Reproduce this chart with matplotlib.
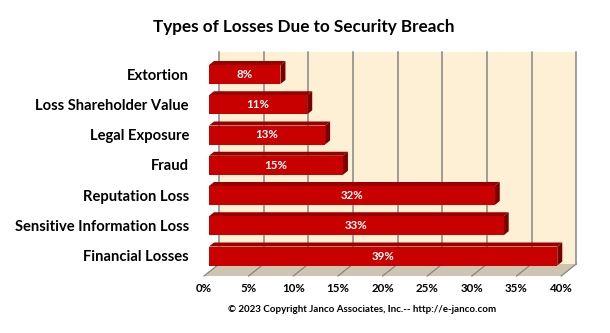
import matplotlib.pyplot as plt
from matplotlib.patches import Polygon

# data (bottom to top)
categories = ['Financial Losses', 'Sensitive Information Loss', 'Reputation Loss',
              'Fraud', 'Legal Exposure', 'Loss Shareholder Value', 'Extortion']
values = [39, 33, 32, 15, 13, 11, 8]
tick_values = [0, 5, 10, 15, 20, 25, 30, 35, 40]
tick_labels = ['0%', '5%', '10%', '15%', '20%', '25%', '30%', '35%', '40%']

W, H = 610, 333
plt.rcParams['font.family'] = ['Lato', 'DejaVu Sans']
fig = plt.figure(figsize=(W / 100, H / 100), dpi=100)
ax = fig.add_axes([0, 0, 1, 1])

# pixel scale of the chart
x0_pix, px_per_pct = 209, 8.93
y0_pix, px_per_cat = 256, 30.25
ax.set_xlim(-x0_pix / px_per_pct, (W - x0_pix) / px_per_pct)
ax.set_ylim((y0_pix - H) / px_per_cat, y0_pix / px_per_cat)
ax.axis('off')

def dx(p):
    return p / px_per_pct

def dy(p):
    return -p / px_per_cat  # positive p = down on screen

xmax = tick_values[-1]
# back wall plane offset relative to the bar front plane
bx = dx(10)
wall_top = dy(52 - y0_pix)
floor_back = dy(264 - y0_pix)
floor_front = dy(276 - y0_pix)
fx = dx(-5)

# back wall
ax.add_patch(Polygon([(bx, floor_back), (xmax + bx, floor_back),
                      (xmax + bx, wall_top), (bx, wall_top)],
                     closed=True, facecolor='#FDF0D4', edgecolor='none', zorder=1))
for t in tick_values:
    ax.plot([t + bx, t + bx], [floor_back, wall_top], color='#858585', lw=1.1, zorder=2)

# floor
ax.add_patch(Polygon([(bx, floor_back), (xmax + bx, floor_back),
                      (xmax + fx, floor_front), (fx, floor_front)],
                     closed=True, facecolor='#CDC4B2', edgecolor='none', zorder=2))
for t in tick_values:
    ax.plot([t + bx, t + fx], [floor_back, floor_front], color='#858585', lw=0.9, zorder=3)

# bars with 3D faces
ypos = list(range(len(categories)))
bh = 19 / px_per_cat
sx, sy = dx(5), dy(-4)
ax.barh(ypos, values, height=bh, left=0, color='#C80000', zorder=5)
for y, v in zip(ypos, values):
    top = y + bh / 2
    bot = y - bh / 2
    ax.add_patch(Polygon([(0, top), (v, top), (v + sx, top + sy), (sx, top + sy)],
                         closed=True, facecolor='#990000', edgecolor='none', zorder=4))
    ax.add_patch(Polygon([(v, bot), (v, top), (v + sx, top + sy), (v + sx, bot + sy)],
                         closed=True, facecolor='#7A0000', edgecolor='none', zorder=4))
    ax.text(v / 2, y, f'{v}%', ha='center', va='center', color='white',
            fontsize=8.3, fontweight='bold', zorder=6)

# category labels
for y, c in zip(ypos, categories):
    ax.text(dx(-20), y - dy(-1), c, ha='right', va='center', fontsize=10.6,
            fontweight='bold', color='black')

# x tick labels at floor front
for t, lab in zip(tick_values, tick_labels):
    ax.text(t + fx, dy(289 - y0_pix), lab, ha='center', va='center', fontsize=8.3,
            fontweight='bold', color='black')

fig.text(304 / W, 1 - 27 / H, 'Types of Losses Due to Security Breach', ha='center',
         va='center', fontsize=12.3, fontweight='bold')
fig.text(362 / W, 1 - 309 / H, '© 2023 Copyright Janco Associates, Inc.-- http://e-janco.com',
         ha='center', va='center', fontsize=7, fontweight='bold')

fig.savefig('out.png', dpi=100, facecolor='white')
